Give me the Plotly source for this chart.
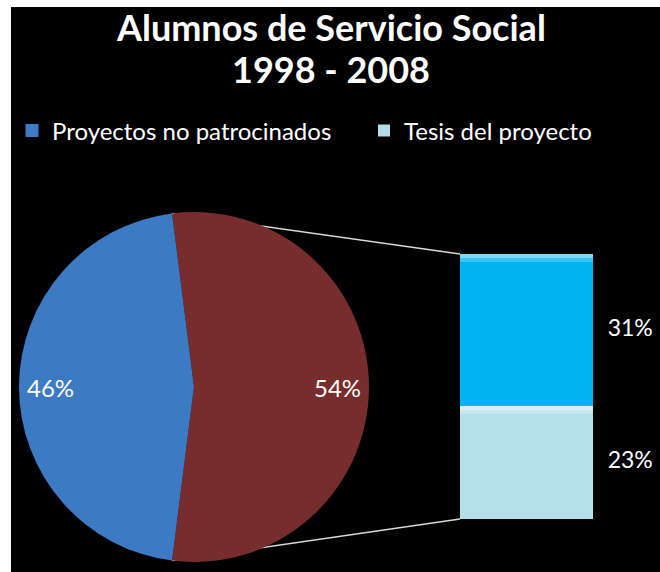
import math
import plotly.graph_objects as go

# ---- data -------------------------------------------------------------
pie_labels = ["Otros", "Proyectos no patrocinados"]
pie_values = [54, 46]

bar_labels = ["Tesis del proyecto", "Otros proyectos"]
bar_values = [23, 31]          # stacked bottom -> top

legend_names = ["Proyectos no patrocinados", "Tesis del proyecto"]

title_lines = ["Alumnos de Servicio Social", "1998 - 2008"]

# ---- styling ----------------------------------------------------------
W, H = 660, 572
FONT = "Lato"
PIE_COLORS = ["#782D2D", "#3D7AC4"]
BAR_COLORS = ["#B4DFEB", "#00B4F3"]
LEGEND_COLORS = ["#3F7CC6", "#B4DFEB"]


def px_x(px):
    return px / W


def px_y(py):
    return 1 - py / H


# pie geometry (pixels)
cx, cy, R = 194, 387, 175
pie_dom_x = [px_x(cx - R), px_x(cx + R)]
pie_dom_y = [px_y(cy + R), px_y(cy - R)]

# first slice ("Otros") centred on the right-hand side
total = sum(pie_values)
other_deg = pie_values[0] / total * 360
rotation = -(other_deg - 180) / 2

# bar geometry (pixels)
bar_left, bar_right, bar_top, bar_bottom = 460, 593, 254, 519
x_dom = [px_x(bar_left), 1.0]
x_max = (W - bar_left) / (bar_right - bar_left)
y_dom = [px_y(bar_bottom), px_y(bar_top)]
bar_total = sum(bar_values)

fig = go.Figure()

fig.add_trace(go.Pie(
    labels=pie_labels, values=pie_values, sort=False,
    direction="clockwise", rotation=rotation,
    marker=dict(colors=PIE_COLORS, line=dict(width=0)),
    textinfo="none", hoverinfo="label+percent",
    domain=dict(x=pie_dom_x, y=pie_dom_y), showlegend=False,
))

# legend entry for the blue pie slice
fig.add_trace(go.Scatter(
    x=[None], y=[None], mode="markers", name=legend_names[0],
    marker=dict(symbol="square", size=13, color=LEGEND_COLORS[0]),
    showlegend=True, legend="legend",
))

for i, (lab, val) in enumerate(zip(bar_labels, bar_values)):
    fig.add_trace(go.Bar(
        x=[0.5], y=[val], width=1, name=lab,
        marker=dict(color=BAR_COLORS[i], line=dict(width=0)),
        showlegend=(lab == legend_names[1]), legend="legend2",
        hoverinfo="y",
    ))

# bar percentages, right of the bar
mids, tops, acc = [], [], 0
for v in bar_values:
    mids.append(acc + v / 2)
    acc += v
    tops.append(acc)
fig.add_trace(go.Scatter(
    x=[1.28] * len(bar_values), y=mids, mode="text",
    text=[f"{v}%" for v in bar_values],
    textfont=dict(family=FONT, size=23, color="white"),
    showlegend=False, hoverinfo="skip",
))

# pie percentages
annotations = []
start = rotation
for v in pie_values:
    span = v / total * 360
    mid = math.radians(start + span / 2)
    lx = cx + 0.82 * R * math.sin(mid)
    ly = cy - 0.82 * R * math.cos(mid)
    annotations.append(dict(
        x=px_x(lx), y=px_y(ly), xref="paper", yref="paper",
        xanchor="center", yanchor="middle",
        text=f"{v}%", showarrow=False,
        font=dict(family=FONT, size=24, color="white"),
    ))
    start += span

# two-line title
for line, ypx in zip(title_lines, [27, 69]):
    annotations.append(dict(
        x=px_x(331), y=px_y(ypx), xref="paper", yref="paper",
        xanchor="center", yanchor="middle",
        text=f"<b>{line}</b>", showarrow=False,
        font=dict(family=FONT, size=36, color="white"),
    ))

# connector lines from the "Otros" slice edges to the bar corners
a0 = math.radians(rotation)
a1 = math.radians(rotation + other_deg)
p_top = (cx + R * math.sin(a0), cy - R * math.cos(a0))
p_bot = (cx + R * math.sin(a1), cy - R * math.cos(a1))

shapes = [
    dict(type="rect", xref="paper", yref="paper", layer="below",
         x0=px_x(11), x1=1, y0=0, y1=px_y(7),
         fillcolor="black", line=dict(width=0)),
    dict(type="line", xref="paper", yref="paper", layer="below",
         x0=px_x(p_top[0]), y0=px_y(p_top[1]),
         x1=x_dom[0], y1=y_dom[1],
         line=dict(color="#D9D9D9", width=1.5)),
    dict(type="line", xref="paper", yref="paper", layer="below",
         x0=px_x(p_bot[0]), y0=px_y(p_bot[1]),
         x1=x_dom[0], y1=y_dom[0],
         line=dict(color="#D9D9D9", width=1.5)),
]

# bevel highlight along the top edge of each bar segment
for t in tops:
    for depth, alpha in [(8, 0.22), (4, 0.35)]:
        shapes.append(dict(
            type="rect", xref="x", yref="y", layer="above",
            x0=0, x1=1, ysizemode="pixel", yanchor=t,
            y0=-depth, y1=0,
            fillcolor=f"rgba(255,255,255,{alpha})", line=dict(width=0),
        ))

legend_style = dict(
    orientation="h", yanchor="middle", y=px_y(131),
    font=dict(family=FONT, size=24, color="white"),
    bgcolor="rgba(0,0,0,0)", borderwidth=0,
    itemclick=False, itemdoubleclick=False, traceorder="normal",
)

fig.update_layout(
    width=W, height=H,
    margin=dict(l=0, r=0, t=0, b=0),
    paper_bgcolor="white", plot_bgcolor="rgba(0,0,0,0)",
    barmode="stack", bargap=0,
    legend=dict(x=px_x(12), xanchor="left", **legend_style),
    legend2=dict(x=px_x(364), xanchor="left", **legend_style),
    xaxis=dict(domain=x_dom, range=[0, x_max], visible=False, fixedrange=True),
    yaxis=dict(domain=y_dom, range=[0, bar_total], visible=False, fixedrange=True),
    shapes=shapes,
    annotations=annotations,
    hovermode="closest",
)

fig.write_html("out.html")
